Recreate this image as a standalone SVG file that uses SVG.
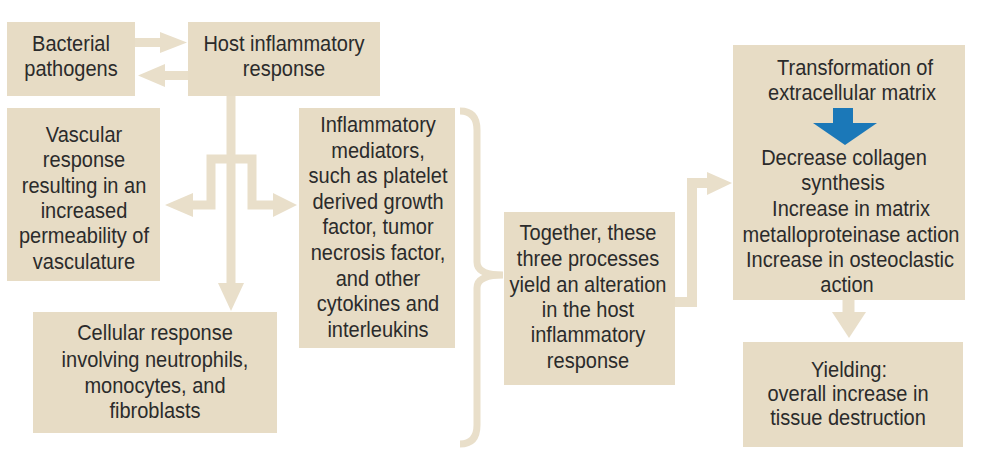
<svg xmlns="http://www.w3.org/2000/svg" width="992" height="463" viewBox="0 0 992 463">
<style>
.box{fill:#e7dcc5}
.ln{fill:none;stroke:#e9dfca;stroke-linejoin:miter}
.hd{fill:#e9dfca}
.t{font-family:"Liberation Sans",Arial,sans-serif;font-size:22px;fill:#2b2b2b;text-anchor:middle}
</style>
<rect width="992" height="463" fill="#ffffff"/>
<g id="connectors">
<path class="ln" stroke-width="9" d="M135,42.5H162"/>
<polygon class="hd" points="160,32 187,42.5 160,53"/>
<path class="ln" stroke-width="9" d="M188,75.5H163"/>
<polygon class="hd" points="165,64 138,75.5 165,87"/>
<path class="ln" stroke-width="9" d="M231,96V285"/>
<polygon class="hd" points="218,283 244,283 231,311"/>
<path class="ln" stroke-width="9" d="M192,205H211V159H252V205H275"/>
<polygon class="hd" points="193,193 165,205 193,217"/>
<polygon class="hd" points="273,193 297,205 273,217"/>
<path class="ln" stroke-width="7" d="M460,111C472,111 477,118 477,130V262C477,270 485,275 503,275M503,275C485,275 477,280 477,288V425C477,437 472,444 460,444"/>
<path class="ln" stroke-width="10" d="M675,302H692V183H710"/>
<polygon class="hd" points="707,172 732,183 707,195"/>
<path class="ln" stroke-width="12" d="M848.5,300V314"/>
<polygon class="hd" points="832,312 866,312 849,338"/>
</g>
<g id="bacterial">
<rect class="box" x="7" y="22" width="128" height="74"/>
<text class="t" transform="translate(71,51) scale(0.91,1)">Bacterial</text>
<text class="t" transform="translate(71,76) scale(0.91,1)">pathogens</text>
</g>
<g id="host">
<rect class="box" x="188" y="22" width="192" height="74"/>
<text class="t" transform="translate(284,51) scale(0.91,1)">Host inflammatory</text>
<text class="t" transform="translate(284,76) scale(0.91,1)">response</text>
</g>
<g id="vascular">
<rect class="box" x="7" y="108" width="153" height="173"/>
<text class="t" transform="translate(84,142) scale(0.91,1)">Vascular</text>
<text class="t" transform="translate(84,167) scale(0.91,1)">response</text>
<text class="t" transform="translate(84,192.5) scale(0.91,1)">resulting in an</text>
<text class="t" transform="translate(84,218) scale(0.91,1)">increased</text>
<text class="t" transform="translate(84,243) scale(0.91,1)">permeability of</text>
<text class="t" transform="translate(84,268.5) scale(0.91,1)">vasculature</text>
</g>
<g id="mediators">
<rect class="box" x="299" y="108" width="156" height="240"/>
<text class="t" transform="translate(378,132) scale(0.91,1)">Inflammatory</text>
<text class="t" transform="translate(378,157.6) scale(0.91,1)">mediators,</text>
<text class="t" transform="translate(378,183.2) scale(0.91,1)">such as platelet</text>
<text class="t" transform="translate(378,208.8) scale(0.91,1)">derived growth</text>
<text class="t" transform="translate(378,234.4) scale(0.91,1)">factor, tumor</text>
<text class="t" transform="translate(378,260) scale(0.91,1)">necrosis factor,</text>
<text class="t" transform="translate(378,285.6) scale(0.91,1)">and other</text>
<text class="t" transform="translate(378,311.2) scale(0.91,1)">cytokines  and</text>
<text class="t" transform="translate(378,336.8) scale(0.91,1)">interleukins</text>
</g>
<g id="cellular">
<rect class="box" x="33" y="312" width="244" height="121"/>
<text class="t" transform="translate(155,340) scale(0.91,1)">Cellular response</text>
<text class="t" transform="translate(155,366.5) scale(0.91,1)">involving neutrophils,</text>
<text class="t" transform="translate(155,392.5) scale(0.91,1)">monocytes, and</text>
<text class="t" transform="translate(155,418) scale(0.91,1)">fibroblasts</text>
</g>
<g id="together">
<rect class="box" x="504" y="212" width="171" height="173"/>
<text class="t" transform="translate(588,240) scale(0.91,1)">Together, these</text>
<text class="t" transform="translate(588,266) scale(0.91,1)">three processes</text>
<text class="t" transform="translate(588,291.5) scale(0.91,1)">yield an alteration</text>
<text class="t" transform="translate(588,317) scale(0.91,1)">in the host</text>
<text class="t" transform="translate(588,342) scale(0.91,1)">inflammatory</text>
<text class="t" transform="translate(588,367.5) scale(0.91,1)">response</text>
</g>
<g id="matrix">
<rect class="box" x="733" y="45" width="232" height="255"/>
<text class="t" transform="translate(855,75) scale(0.91,1)">Transformation of</text>
<text class="t" transform="translate(852,100) scale(0.91,1)">extracellular matrix</text>
<polygon fill="#1b78b8" points="833,108 853,108 853,123 877,123 845,145 813,123 833,123"/>
<text class="t" transform="translate(844,165) scale(0.91,1)">Decrease collagen</text>
<text class="t" transform="translate(843,190) scale(0.91,1)">synthesis</text>
<text class="t" transform="translate(851,216) scale(0.91,1)">Increase in matrix</text>
<text class="t" transform="translate(851,241.5) scale(0.91,1)">metalloproteinase action</text>
<text class="t" transform="translate(850,267) scale(0.91,1)">Increase in osteoclastic</text>
<text class="t" transform="translate(847,292) scale(0.91,1)">action</text>
</g>
<g id="yielding">
<rect class="box" x="743" y="342" width="220" height="105"/>
<text class="t" transform="translate(849,377) scale(0.91,1)">Yielding:</text>
<text class="t" transform="translate(848,401) scale(0.91,1)">overall increase  in</text>
<text class="t" transform="translate(848,425) scale(0.91,1)">tissue  destruction</text>
</g>
</svg>
